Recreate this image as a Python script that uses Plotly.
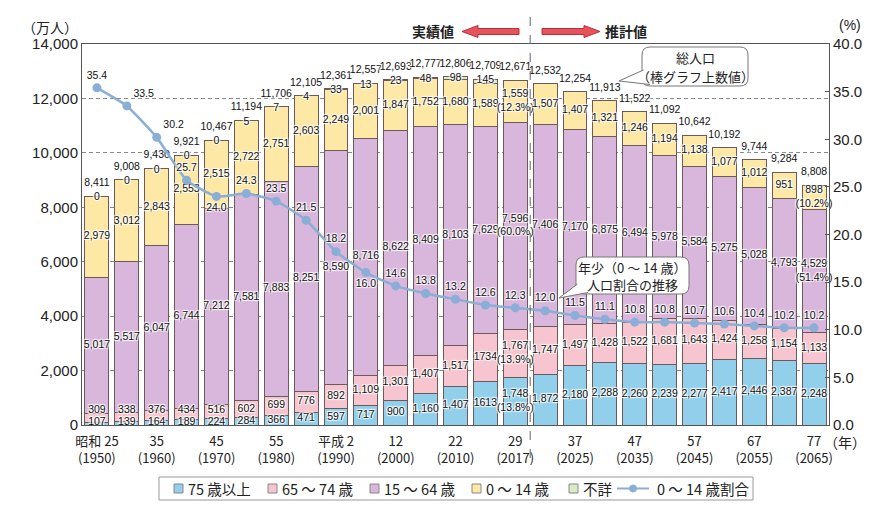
import plotly.graph_objects as go

# ---------------- data ----------------
years = [1950, 1955, 1960, 1965, 1970, 1975, 1980, 1985, 1990, 1995, 2000, 2005, 2010,
         2015, 2017, 2020, 2025, 2030, 2035, 2040, 2045, 2050, 2055, 2060, 2065]
age75_plus = [107, 139, 164, 189, 224, 284, 366, 471, 597, 717, 900, 1160, 1407,
              1613, 1748, 1872, 2180, 2288, 2260, 2239, 2277, 2417, 2446, 2387, 2248]
age65_74 = [309, 338, 376, 434, 516, 602, 699, 776, 892, 1109, 1301, 1407, 1517,
            1734, 1767, 1747, 1497, 1428, 1522, 1681, 1643, 1424, 1258, 1154, 1133]
age15_64 = [5017, 5517, 6047, 6744, 7212, 7581, 7883, 8251, 8590, 8716, 8622, 8409, 8103,
            7629, 7596, 7406, 7170, 6875, 6494, 5978, 5584, 5275, 5028, 4793, 4529]
age0_14 = [2979, 3012, 2843, 2553, 2515, 2722, 2751, 2603, 2249, 2001, 1847, 1752, 1680,
           1589, 1559, 1507, 1407, 1321, 1246, 1194, 1138, 1077, 1012, 951, 898]
unknown = [0, 0, 0, 0, 0, 5, 7, 4, 33, 13, 23, 48, 98, 145] + [None] * 11
total = [8411, 9008, 9430, 9921, 10467, 11194, 11706, 12105, 12361, 12557, 12693, 12777, 12806,
         12709, 12671, 12532, 12254, 11913, 11522, 11092, 10642, 10192, 9744, 9284, 8808]
ratio0_14 = [35.4, 33.5, 30.2, 25.7, 24.0, 24.3, 23.5, 21.5, 18.2, 16.0, 14.6, 13.8, 13.2,
             12.6, 12.3, 12.0, 11.5, 11.1, 10.8, 10.8, 10.7, 10.6, 10.4, 10.2, 10.2]
# shares shown in brackets (2017 and 2065)
share_2017 = {"75": 13.8, "65": 13.9, "15": 60.0, "0": 12.3}
share_2065 = {"15": 51.4, "0": 10.2}
no_comma_75 = {13}  # the original prints "1613" without comma
no_comma_65 = {13}  # "1734"

tick_idx = list(range(0, 25, 2))
tick_text = ["昭和 25<br>(1950)", "35<br>(1960)", "45<br>(1970)", "55<br>(1980)",
             "平成 2<br>(1990)", "12<br>(2000)", "22<br>(2010)", "29<br>(2017)",
             "37<br>(2025)", "47<br>(2035)", "57<br>(2045)", "67<br>(2055)", "77<br>(2065)"]
series_names = ["75 歳以上", "65 ～ 74 歳", "15 ～ 64 歳", "0 ～ 14 歳", "不詳"]
line_name = "0 ～ 14 歳割合"

# ---------------- styles ----------------
C75, C65, C15, C0, CUN = "#92CFEA", "#F6C5CF", "#D9B6DB", "#FDE8A6", "#D8EBC3"
COLORS = [C75, C65, C15, C0, CUN]
CLINE = "#8AAED6"
EDGE = "#6a5a5a"
JP = "Noto Sans CJK JP, sans-serif"
NUM = "Liberation Sans, Arial, sans-serif"
LAB = "Liberation Sans Narrow, Arial Narrow, Liberation Sans, sans-serif"
LSIZE = 10.5
HALO = "1px 1px 1px #fff, -1px -1px 1px #fff, 1px -1px 1px #fff, -1px 1px 1px #fff"

cats = [str(y) for y in years]
n = len(years)

def fmt(v, plain=False):
    return str(v) if plain else f"{v:,}"

fig = go.Figure()
for name, vals, col in zip(series_names, [age75_plus, age65_74, age15_64, age0_14, unknown], COLORS):
    fig.add_trace(go.Bar(x=cats, y=vals, name=name, marker=dict(color=col, line=dict(color=EDGE, width=1)),
                         hoverinfo="skip"))

# segment labels
lx, ly, lt = [], [], []
for i in range(n):
    a, b, c, d = age75_plus[i], age65_74[i], age15_64[i], age0_14[i]
    y75 = max(a / 2, 110)
    y65 = max(a + b / 2, y75 + 420)
    t75, t65, t15, t0 = fmt(a, i in no_comma_75), fmt(b, i in no_comma_65), fmt(c), fmt(d)
    if years[i] == 2017:
        t75 += f"<br>({share_2017['75']:.1f}%)"
        t65 += f"<br>({share_2017['65']:.1f}%)"
        t15 += f"<br>({share_2017['15']:.1f}%)"
        t0 += f"<br>({share_2017['0']:.1f}%)"
    if years[i] == 2065:
        t15 += f"<br>({share_2065['15']:.1f}%)"
        t0 += f"<br>({share_2065['0']:.1f}%)"
    for yy, tt in [(y75, t75), (y65, t65), (a + b + c / 2, t15), (a + b + c + d / 2, t0)]:
        lx.append(cats[i]); ly.append(yy); lt.append(tt)
    if unknown[i] is not None:
        lx.append(cats[i]); ly.append(total[i] - 60); lt.append(fmt(unknown[i]))
    lx.append(cats[i]); ly.append(total[i] + 460); lt.append(fmt(total[i]))

fig.add_trace(go.Scatter(x=lx, y=ly, text=lt, mode="text", showlegend=False, hoverinfo="skip",
                         textfont=dict(family=LAB, size=LSIZE, color="#111", shadow=HALO),
                         cliponaxis=False))

# ratio line
pos = ["top center"] * n
pos[1] = "top right"
pos[2] = "top right"
pos[4] = "bottom center"
pos[9] = "bottom center"
fig.add_trace(go.Scatter(x=cats, y=ratio0_14, yaxis="y2", name=line_name,
                         mode="lines+markers+text", text=[f"{v:.1f}" for v in ratio0_14],
                         textposition=pos,
                         textfont=dict(family=LAB, size=LSIZE, color="#111", shadow=HALO),
                         line=dict(color=CLINE, width=2.5, shape="spline", smoothing=0.5),
                         marker=dict(color=CLINE, size=9), cliponaxis=False, hoverinfo="skip"))

# ---------------- decorations ----------------
PX0, PX1, PY0, PY1 = 82, 829, 44, 425

def P(x, y):
    return (x - PX0) / (PX1 - PX0), (PY1 - y) / (PY1 - PY0)

def poly(points, close=True):
    s = ""
    for k, (x, y) in enumerate(points):
        px, py = P(x, y)
        s += ("M" if k == 0 else "L") + f"{px:.5f},{py:.5f} "
    return s + ("Z" if close else "")

def rrect(x0, y0, x1, y1, r):
    def q(x, y):
        px, py = P(x, y)
        return f"{px:.5f},{py:.5f}"
    return (f"M{q(x0 + r, y0)} L{q(x1 - r, y0)} Q{q(x1, y0)} {q(x1, y0 + r)} "
            f"L{q(x1, y1 - r)} Q{q(x1, y1)} {q(x1 - r, y1)} L{q(x0 + r, y1)} "
            f"Q{q(x0, y1)} {q(x0, y1 - r)} L{q(x0, y0 + r)} Q{q(x0, y0)} {q(x0 + r, y0)} Z")

def rect(x0, y0, x1, y1, fill, line="#888", width=1, kind="rect"):
    ax, ay = P(x0, y1)
    bx, by = P(x1, y0)
    return dict(type=kind, xref="paper", yref="paper", x0=ax, y0=ay, x1=bx, y1=by,
                fillcolor=fill, line=dict(color=line, width=width))

shapes = []
RED, DRED = "#E8525A", "#B8303C"
shapes.append(dict(type="path", xref="paper", yref="paper", fillcolor=RED, line=dict(color=DRED, width=1),
                   path=poly([(462, 31.5), (478, 25.5), (478, 28.5), (519, 28.5), (519, 34.5), (478, 34.5), (478, 37.5)])))
shapes.append(dict(type="path", xref="paper", yref="paper", fillcolor=RED, line=dict(color=DRED, width=1),
                   path=poly([(600, 31.5), (584, 25.5), (584, 28.5), (542, 28.5), (542, 34.5), (584, 34.5), (584, 37.5)])))
# divider between actual and projected values
shapes.append(dict(type="line", xref="x", yref="paper", x0=14.5, x1=14.5, y0=P(0, 458)[1], y1=P(0, 8)[1],
                   line=dict(color="#666", width=1, dash="dash")))
# callouts
shapes.append(dict(type="path", xref="paper", yref="paper", fillcolor="white", line=dict(color="#777", width=1),
                   path=rrect(642, 47, 748, 86, 8)))
shapes.append(dict(type="path", xref="paper", yref="paper", fillcolor="white", line=dict(color="#777", width=1),
                   path=poly([(643.5, 70), (619, 81), (650, 84.5)], close=False)))
shapes.append(dict(type="path", xref="paper", yref="paper", fillcolor="white", line=dict(color="#777", width=1),
                   path=rrect(576, 257, 689, 294, 8)))
shapes.append(dict(type="path", xref="paper", yref="paper", fillcolor="white", line=dict(color="#777", width=1),
                   path=poly([(577.5, 284), (559, 298), (588, 292.5)], close=False)))

annotations = []
def note(x, y, text, size=13, family=JP, color="#222", xanchor="center"):
    px, py = P(x, y)
    annotations.append(dict(x=px, y=py, xref="paper", yref="paper", text=text, showarrow=False,
                            font=dict(family=family, size=size, color=color), xanchor=xanchor, yanchor="middle"))

note(50, 27, "（万人）", 14)
note(850, 25, "(%)", 14, NUM)
note(845, 442, "（年）", 14)
note(433, 31, "<b>実績値</b>", 14)
note(626, 31, "<b>推計値</b>", 14)
note(695, 57, "総人口", 13)
note(695, 76, "（棒グラフ上数値）", 13)
note(632, 267, "年少（0 ～ 14 歳）", 13)
note(632, 284, "人口割合の推移", 13)

# legend (drawn as a framed key below the plot)
LY = 488.5
shapes.append(rect(159, 477, 753, 500, "white", "#999", 1))
sq_left = [174, 268, 370, 472, 569]
for xl, col, name in zip(sq_left, COLORS, series_names):
    shapes.append(rect(xl, LY - 4.5, xl + 9, LY + 4.5, col, "#888", 1))
    note(xl + 12, LY, name, 14.5, xanchor="left")
shapes.append(dict(type="line", xref="paper", yref="paper", x0=P(617, LY)[0], x1=P(649, LY)[0],
                   y0=P(617, LY)[1], y1=P(649, LY)[1], line=dict(color=CLINE, width=2)))
shapes.append(rect(629.5, LY - 3.5, 636.5, LY + 3.5, CLINE, CLINE, 1, "circle"))
note(655, LY, line_name, 14.5, xanchor="left")

fig.update_layout(
    width=882, height=521,
    margin=dict(l=PX0, r=882 - PX1, t=PY0, b=521 - PY1, autoexpand=False),
    paper_bgcolor="white", plot_bgcolor="white",
    barmode="stack", bargap=0.2,
    showlegend=False,
    xaxis=dict(type="category", tickmode="array", tickvals=[cats[i] for i in tick_idx], ticktext=tick_text,
               tickfont=dict(family=JP, size=13, color="#222"), showline=True, mirror=True,
               linecolor="#555", linewidth=1, ticks="", showgrid=False, range=[-0.5, n - 0.5],
               ticklabelstandoff=4),
    yaxis=dict(range=[0, 14000], dtick=2000, tickformat=",", tickfont=dict(family=NUM, size=15, color="#222"),
               showline=True, linecolor="#555", linewidth=1, showgrid=True, gridcolor="#888",
               griddash="4px,3px", gridwidth=1, zeroline=False, ticks=""),
    yaxis2=dict(range=[0, 40], dtick=5, tickformat=".1f", overlaying="y", side="right",
                tickfont=dict(family=NUM, size=15, color="#222"), showline=True, linecolor="#555",
                linewidth=1, showgrid=False, zeroline=False, ticks="inside", ticklen=4, tickcolor="#555"),
    shapes=shapes, annotations=annotations,
    font=dict(family=JP),
)

fig.write_html("out.html", config={"displayModeBar": False},
               post_script="document.body.style.margin='0';document.body.style.overflow='hidden';")
